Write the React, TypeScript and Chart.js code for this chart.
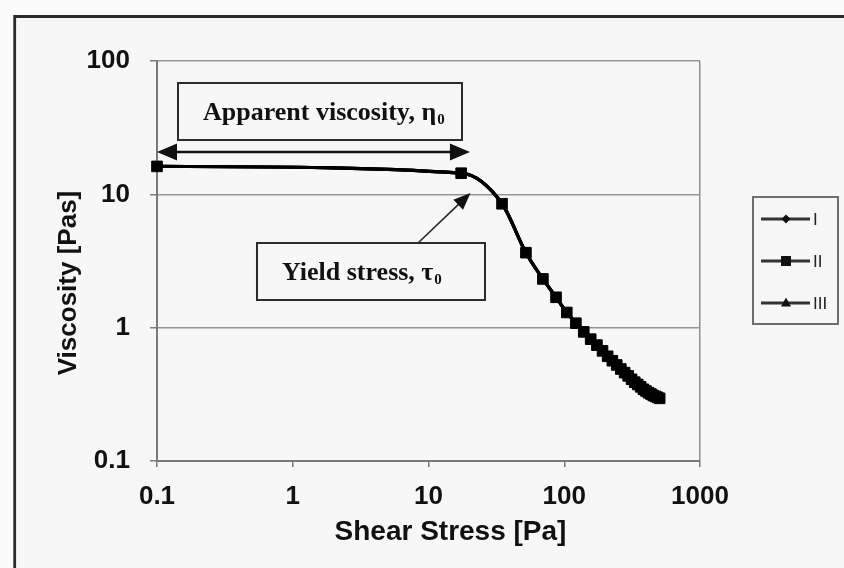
import React, { useEffect, useRef } from 'react';
import { Chart, registerables } from 'chart.js';

Chart.register(...registerables);

// ---- data ----
const shearStress = [
  0.1, 17.4, 34.8, 52.2, 69.6, 87, 104.4, 121.8, 139.2, 156.6, 174, 191.4, 208.8, 226.2, 243.6,
  261, 278.4, 295.8, 313.2, 330.6, 348, 365.4, 382.8, 400.2, 417.6, 435, 452.4, 469.8, 487.2, 504.6,
];
const viscosityII = [
  16.2, 14.4, 8.5, 3.65, 2.32, 1.69, 1.3, 1.08, 0.93, 0.82, 0.74, 0.67, 0.61, 0.565, 0.525,
  0.49, 0.46, 0.435, 0.41, 0.39, 0.375, 0.36, 0.345, 0.335, 0.325, 0.318, 0.31, 0.305, 0.3, 0.295,
];
const viscosityI = [
  16.2, 14.4, 8.5, 3.65, 2.32, 1.69, 1.3, 1.08, 0.93, 0.82, 0.74, 0.67, 0.61, 0.565, 0.525,
  0.49, 0.46, 0.435, 0.41, 0.39, 0.375, 0.36, 0.345, 0.335, 0.325, 0.318, 0.31, 0.305, 0.3, 0.295,
];
const viscosityIII = [
  16.2, 14.4, 8.5, 3.65, 2.32, 1.69, 1.3, 1.08, 0.93, 0.82, 0.74, 0.67, 0.61, 0.565, 0.525,
  0.49, 0.46, 0.435, 0.41, 0.39, 0.375, 0.36, 0.345, 0.335, 0.325, 0.318, 0.31, 0.305, 0.3, 0.295,
];
const seriesLabels = ['I', 'II', 'III'];
const xTickValues = [0.1, 1, 10, 100, 1000];
const xTickLabels = ['0.1', '1', '10', '100', '1000'];
const yTickValues = [0.1, 1, 10, 100];
const yTickLabels = ['0.1', '1', '10', '100'];
const xAxisTitle = 'Shear Stress [Pa]';
const yAxisTitle = 'Viscosity [Pas]';
const apparentLabel = 'Apparent viscosity, η';
const yieldLabel = 'Yield stress, τ';
const labelSubscript = '0';

// annotation anchors in data space [shear stress, viscosity]
const apparentBox = { x0: 0.1428, x1: 17.65, y0: 68.4, y1: 25.55 };
const apparentArrow = { x0: 0.1, x1: 20.2, y: 20.77 };
const yieldBox = { x0: 0.5452, x1: 26.08, y0: 4.315, y1: 1.612 };
const yieldArrow = { x0: 8.37, y0: 4.315, x1: 20.39, y1: 10.23 };

const SANS = '"Liberation Sans", Arial, sans-serif';
const SERIF = '"Liberation Serif", "Times New Roman", serif';
const BG = '#f7f7f7';

function arrowHead(ctx: CanvasRenderingContext2D, tx: number, ty: number, fx: number, fy: number, len: number, half: number) {
  const a = Math.atan2(ty - fy, tx - fx);
  ctx.beginPath();
  ctx.moveTo(tx, ty);
  ctx.lineTo(tx - len * Math.cos(a) + half * Math.sin(a), ty - len * Math.sin(a) - half * Math.cos(a));
  ctx.lineTo(tx - len * Math.cos(a) - half * Math.sin(a), ty - len * Math.sin(a) + half * Math.cos(a));
  ctx.closePath();
  ctx.fill();
}

function drawMarker(ctx: CanvasRenderingContext2D, style: string, x: number, y: number) {
  ctx.beginPath();
  if (style === 'rect') {
    ctx.rect(x - 5, y - 5, 10, 10);
  } else if (style === 'triangle') {
    ctx.moveTo(x, y - 5.5);
    ctx.lineTo(x + 5, y + 3.5);
    ctx.lineTo(x - 5, y + 3.5);
    ctx.closePath();
  } else {
    ctx.moveTo(x, y - 4.5);
    ctx.lineTo(x + 4.5, y);
    ctx.lineTo(x, y + 4.5);
    ctx.lineTo(x - 4.5, y);
    ctx.closePath();
  }
  ctx.fill();
}

function boxedLabel(ctx: CanvasRenderingContext2D, chart: any, box: any, text: string) {
  const xs = chart.scales.x;
  const ys = chart.scales.y;
  const l = xs.getPixelForValue(box.x0);
  const r = xs.getPixelForValue(box.x1);
  const t = ys.getPixelForValue(box.y0);
  const b = ys.getPixelForValue(box.y1);
  ctx.fillStyle = BG;
  ctx.fillRect(l, t, r - l, b - t);
  ctx.strokeStyle = '#2b2b2b';
  ctx.lineWidth = 2;
  ctx.strokeRect(l, t, r - l, b - t);
  const size = 26;
  ctx.fillStyle = '#111';
  ctx.font = `bold ${size}px ${SERIF}`;
  ctx.textAlign = 'left';
  ctx.textBaseline = 'alphabetic';
  const base = (t + b) / 2 + size * 0.34;
  const x = l + 25;
  ctx.fillText(text, x, base);
  const w = ctx.measureText(text).width;
  ctx.font = `bold ${Math.round(size * 0.58)}px ${SERIF}`;
  ctx.fillText(labelSubscript, x + w + 1, base + 4);
}

const decorPlugin = {
  id: 'decor',
  beforeDraw(chart: any) {
    const ctx = chart.ctx;
    ctx.save();
    ctx.fillStyle = '#fbfbfb';
    ctx.fillRect(0, 0, chart.width, chart.height);
    ctx.fillStyle = BG;
    ctx.fillRect(15, 17, chart.width - 15, chart.height - 17);
    ctx.strokeStyle = '#2a2a2a';
    ctx.lineWidth = 2.8;
    ctx.beginPath();
    ctx.moveTo(14.7, chart.height + 2);
    ctx.lineTo(14.7, 16.5);
    ctx.lineTo(chart.width + 2, 16.5);
    ctx.stroke();
    ctx.restore();
  },
  afterDraw(chart: any) {
    const ctx = chart.ctx;
    const area = chart.chartArea;
    const xs = chart.scales.x;
    const ys = chart.scales.y;
    ctx.save();

    // axis titles
    ctx.fillStyle = '#111';
    ctx.textAlign = 'center';
    ctx.textBaseline = 'middle';
    ctx.font = `bold 28px ${SANS}`;
    ctx.fillText(xAxisTitle, (area.left + area.right) / 2 + 22, area.bottom + 71);
    ctx.save();
    ctx.translate(area.left - 88, (area.top + area.bottom) / 2 + 22);
    ctx.rotate(-Math.PI / 2);
    ctx.font = `bold 26px ${SANS}`;
    ctx.fillText(yAxisTitle, 0, 0);
    ctx.restore();

    // annotation: apparent viscosity
    boxedLabel(ctx, chart, apparentBox, apparentLabel);
    const ay = ys.getPixelForValue(apparentArrow.y);
    const ax0 = xs.getPixelForValue(apparentArrow.x0);
    const ax1 = xs.getPixelForValue(apparentArrow.x1);
    ctx.strokeStyle = '#111';
    ctx.fillStyle = '#111';
    ctx.lineWidth = 2.6;
    ctx.beginPath();
    ctx.moveTo(ax0 + 10, ay);
    ctx.lineTo(ax1 - 10, ay);
    ctx.stroke();
    arrowHead(ctx, ax0, ay, ax1, ay, 20, 8.5);
    arrowHead(ctx, ax1, ay, ax0, ay, 20, 8.5);

    // annotation: yield stress
    boxedLabel(ctx, chart, yieldBox, yieldLabel);
    const yx0 = xs.getPixelForValue(yieldArrow.x0);
    const yy0 = ys.getPixelForValue(yieldArrow.y0);
    const yx1 = xs.getPixelForValue(yieldArrow.x1);
    const yy1 = ys.getPixelForValue(yieldArrow.y1);
    ctx.lineWidth = 1.7;
    ctx.beginPath();
    ctx.moveTo(yx0, yy0);
    const ang = Math.atan2(yy1 - yy0, yx1 - yx0);
    ctx.lineTo(yx1 - 10 * Math.cos(ang), yy1 - 10 * Math.sin(ang));
    ctx.stroke();
    arrowHead(ctx, yx1, yy1, yx0, yy0, 17, 7);

    // legend
    const lx = area.right + 53;
    const ly = area.top + 136;
    const lw = 85;
    const lh = 127;
    ctx.fillStyle = BG;
    ctx.fillRect(lx, ly, lw, lh);
    ctx.strokeStyle = '#6e6e6e';
    ctx.lineWidth = 2;
    ctx.strokeRect(lx, ly, lw, lh);
    const datasets = chart.data.datasets;
    datasets.forEach((ds: any, i: number) => {
      const cy = ly + 22 + i * 42;
      ctx.strokeStyle = '#333';
      ctx.lineWidth = 2.8;
      ctx.beginPath();
      ctx.moveTo(lx + 8, cy);
      ctx.lineTo(lx + 57, cy);
      ctx.stroke();
      ctx.fillStyle = '#111';
      drawMarker(ctx, ds.pointStyle, lx + 33, cy);
      ctx.fillStyle = '#222';
      ctx.font = `17px ${SANS}`;
      ctx.textAlign = 'left';
      ctx.textBaseline = 'middle';
      ctx.fillText(ds.label, lx + 60, cy + 1);
    });

    ctx.restore();
  },
};

function points(ys: number[]) {
  return shearStress.map((x, i) => ({ x, y: ys[i] }));
}

export default function App() {
  const ref = useRef<HTMLCanvasElement | null>(null);

  useEffect(() => {
    document.body.style.margin = '0';
    const canvas = ref.current;
    if (!canvas) return;
    const common = {
      borderColor: '#000',
      backgroundColor: '#000',
      pointBorderColor: '#000',
      pointBackgroundColor: '#000',
      borderWidth: 3.2,
      cubicInterpolationMode: 'monotone',
      clip: false,
      pointBorderWidth: 1,
    };
    const chart = new Chart(canvas, {
      type: 'line',
      data: {
        datasets: [
          { ...common, label: seriesLabels[0], data: points(viscosityI), pointStyle: 'rectRot', pointRadius: 4, order: 1 },
          { ...common, label: seriesLabels[1], data: points(viscosityII), pointStyle: 'rect', pointRadius: 7.5, order: 0 },
          { ...common, label: seriesLabels[2], data: points(viscosityIII), pointStyle: 'triangle', pointRadius: 4, order: 2 },
        ] as any,
      },
      options: {
        responsive: false,
        animation: false,
        devicePixelRatio: 1,
        layout: { padding: { top: 61, right: 144, left: 0, bottom: 0 } },
        plugins: { legend: { display: false }, tooltip: { enabled: false } },
        scales: {
          x: {
            type: 'logarithmic',
            position: 'bottom',
            min: 0.1,
            max: 1000,
            afterBuildTicks: (s: any) => {
              s.ticks = xTickValues.map((v) => ({ value: v }));
            },
            afterFit: (s: any) => {
              s.height = 107;
            },
            ticks: {
              autoSkip: false,
              maxRotation: 0,
              padding: 14,
              color: '#111',
              font: { family: SANS, size: 26, weight: 'bold' },
              callback: (_v: any, i: number) => xTickLabels[i],
            },
            grid: {
              color: (c: any) => (c.tick && c.tick.value === 1000 ? '#8f8f8f' : 'rgba(0,0,0,0)'),
              lineWidth: 1.5,
              tickColor: '#7a7a7a',
              tickLength: 6,
              tickWidth: 1.5,
            },
            border: { color: '#7a7a7a', width: 2 },
          },
          y: {
            type: 'logarithmic',
            position: 'left',
            min: 0.1,
            max: 100,
            afterBuildTicks: (s: any) => {
              s.ticks = yTickValues.map((v) => ({ value: v }));
            },
            afterFit: (s: any) => {
              s.width = 157;
            },
            ticks: {
              autoSkip: false,
              padding: 20,
              color: '#111',
              font: { family: SANS, size: 26, weight: 'bold' },
              callback: (_v: any, i: number) => yTickLabels[i],
            },
            grid: {
              color: '#959595',
              lineWidth: 1.5,
              tickColor: '#7a7a7a',
              tickLength: 7,
              tickWidth: 1.5,
            },
            border: { color: '#7a7a7a', width: 2 },
          },
        },
      } as any,
      plugins: [decorPlugin],
    });
    return () => chart.destroy();
  }, []);

  return (
    <div style={{ position: 'fixed', left: 0, top: 0, width: 844, height: 568 }}>
      <canvas ref={ref} width={844} height={568} />
    </div>
  );
}
